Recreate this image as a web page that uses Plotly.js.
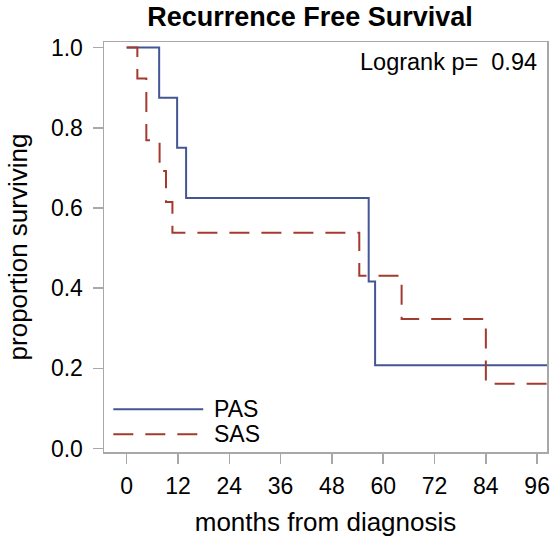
<!DOCTYPE html>
<html>
<head>
<meta charset="utf-8">
<script src="https://cdn.plot.ly/plotly-3.0.1.min.js"></script>
<style>
html, body { margin: 0; padding: 0; background: #fff; }
#chart { width: 551px; height: 544px; }
</style>
</head>
<body>
<div id="chart"></div>
<script>
// Kaplan-Meier step data (months, proportion surviving)
const pasMonths = [0, 7.6, 11.8, 13.9, 56.6, 58.1, 100];
const pasSurv   = [1.0, 0.875, 0.75, 0.625, 0.417, 0.208, 0.208];
const sasMonths = [0, 2.5, 4.6, 7.7, 9.2, 10.7, 54.4, 64.3, 84.0, 100];
const sasSurv   = [1.0, 0.923, 0.769, 0.692, 0.615, 0.538, 0.431, 0.323, 0.162, 0.162];
const seriesNames = ['PAS', 'SAS'];
const xTicks = [0, 12, 24, 36, 48, 60, 72, 84, 96];
const yTicks = [0.0, 0.2, 0.4, 0.6, 0.8, 1.0];
const pValueText = 'Logrank p=\u00a0 0.94';

const FONT = 'Liberation Sans, Arial, Helvetica, sans-serif';
const BLUE = '#445694';
const RED = '#A23A2E';
const GRID = '#a8a8a8';
const RED_DASH = '20px,12px';

const traces = [
  {
    x: pasMonths, y: pasSurv, name: seriesNames[0], type: 'scatter', mode: 'lines',
    line: { shape: 'hv', color: BLUE, width: 2 }, hoverinfo: 'skip'
  },
  {
    x: sasMonths, y: sasSurv, name: seriesNames[1], type: 'scatter', mode: 'lines',
    line: { shape: 'hv', color: RED, width: 2, dash: RED_DASH }, hoverinfo: 'skip'
  }
];

const layout = {
  width: 551, height: 544,
  margin: { l: 104, r: 4, t: 42, b: 92, pad: 0 },
  paper_bgcolor: '#ffffff', plot_bgcolor: '#ffffff',
  showlegend: false,
  font: { family: FONT, color: '#000000', size: 23 },
  title: {
    text: '<b>Recurrence Free Survival</b>',
    font: { family: FONT, size: 27, color: '#000000' },
    xref: 'paper', x: 0.465, xanchor: 'center',
    yref: 'container', y: 1 - 17 / 544, yanchor: 'middle'
  },
  xaxis: {
    range: [-5.3, 98.3], tickvals: xTicks, ticktext: xTicks.map(String),
    showgrid: false, zeroline: false,
    showline: true, linecolor: GRID, linewidth: 1.5, mirror: true,
    ticks: 'outside', ticklen: 10, tickcolor: GRID, tickwidth: 1.5,
    tickfont: { family: FONT, size: 23, color: '#000000' },
    ticklabelstandoff: 3,
    title: { text: 'months from diagnosis', font: { family: FONT, size: 26, color: '#000000' }, standoff: 14 }
  },
  yaxis: {
    range: [-0.0085, 1.014], tickvals: yTicks, ticktext: yTicks.map(v => v.toFixed(1)),
    showgrid: false, zeroline: false,
    showline: true, linecolor: GRID, linewidth: 1.5, mirror: true,
    ticks: 'outside', ticklen: 10, tickcolor: GRID, tickwidth: 1.5,
    tickfont: { family: FONT, size: 23, color: '#000000' },
    ticklabelstandoff: 5,
    title: { text: 'proportion surviving', font: { family: FONT, size: 26, color: '#000000' }, standoff: 16 }
  },
  shapes: [
    { type: 'line', xref: 'paper', yref: 'paper', x0: 0.021, x1: 0.224, y0: 0.104, y1: 0.104,
      line: { color: BLUE, width: 2 } },
    { type: 'line', xref: 'paper', yref: 'paper', x0: 0.021, x1: 0.224, y0: 0.043, y1: 0.043,
      line: { color: RED, width: 2, dash: RED_DASH } }
  ],
  annotations: [
    { text: seriesNames[0], xref: 'paper', yref: 'paper', x: 0.243, y: 0.104, xanchor: 'left', yanchor: 'middle',
      showarrow: false, font: { family: FONT, size: 23, color: '#000000' } },
    { text: seriesNames[1], xref: 'paper', yref: 'paper', x: 0.243, y: 0.043, xanchor: 'left', yanchor: 'middle',
      showarrow: false, font: { family: FONT, size: 23, color: '#000000' } },
    { text: pValueText, xref: 'paper', yref: 'paper', x: 0.982, y: 0.951, xanchor: 'right', yanchor: 'middle',
      showarrow: false, font: { family: FONT, size: 23.5, color: '#000000' } }
  ]
};

Plotly.newPlot('chart', traces, layout, { staticPlot: true, displayModeBar: false });
</script>
</body>
</html>
